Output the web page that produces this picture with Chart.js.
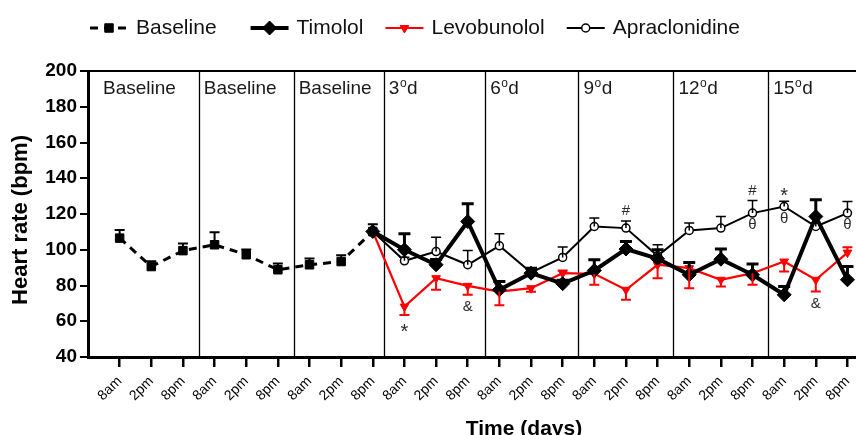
<!DOCTYPE html>
<html>
<head>
<meta charset="utf-8">
<script src="https://cdn.jsdelivr.net/npm/chart.js@4.4.0/dist/chart.umd.min.js"></script>
<style>
  body { margin: 0; background: #fff; }
  #wrap { width: 856px; height: 435px; }
</style>
</head>
<body>
<div id="wrap"><canvas id="hr_chart"></canvas></div>
<script>
// tick labels (one per sampling time, 8 days x 3)
const timeLabels = ['8am','2pm','8pm','8am','2pm','8pm','8am','2pm','8pm',
                    '8am','2pm','8pm','8am','2pm','8pm','8am','2pm','8pm',
                    '8am','2pm','8pm','8am','2pm','8pm'];

// baseline period
const baselineX   = [0, 1, 2, 3, 4, 5, 6, 7, 8];
const baselineHR  = [106.5, 90.6, 99.5, 102.8, 97.2, 88.8, 91.6, 93.4, 110.2];
const baselineErr = [4.5, 3, 4, 7, 3, 3.5, 3.5, 3.5, 4];

// treatment period
const treatX = [8, 9, 10, 11, 12, 13, 14, 15, 16, 17, 18, 19, 20, 21, 22, 23];
const timololHR  = [110.2, 100, 91.6, 115.8, 77.6, 86.9, 81, 88.4, 100.4, 95, 86, 94.7, 86, 74.8, 118.6, 83.2];
const timololErr = [0, 9, 3, 10, 4.6, 2.8, 2, 6, 4.2, 5, 6.9, 5.7, 6, 4.6, 9.4, 7.4];
const levoHR  = [110.2, 68.2, 84.1, 79.8, 76.6, 78.5, 86.9, 86.5, 77.6, 91.6, 89.7, 83.2, 86.9, 93.4, 83.2, 98.4];
const levoErr = [0, -4.7, -6.5, -5, -7.6, -2, 1.5, -6.1, -5.6, -7.5, -11.2, -3.8, -6.5, -5.6, -6.6, 3];
const apraHR  = [110.2, 93.8, 99, 91.6, 102.2, 87.3, 95.7, 113, 112.1, 96.6, 110.8, 112.1, 120.5, 124.2, 113, 120.5];
const apraErr = [0, 2, 8, 8, 6.8, 2, 5.8, 4.7, 4, 6.2, 4.2, 6.5, 7.1, 3, 2, 6.5];

// day panels
const dayNames = ['Baseline', 'Baseline', 'Baseline', '3', '6', '9', '12', '15'];
const dayBreaks = [2.5, 5.5, 8.35, 11.55, 14.5, 17.5, 20.5];

// significance marks
const markText   = ['*', '&', '&', '#', '#', 'θ', '*', 'θ', 'θ'];
const markSeries = ['Levobunolol', 'Levobunolol', 'Levobunolol', 'Apraclonidine', 'Apraclonidine',
                    'Apraclonidine', 'Apraclonidine', 'Apraclonidine', 'Apraclonidine'];
const markAt     = [9, 11, 22, 16, 20, 20, 21, 21, 23];
const markSide   = ['below', 'below', 'below', 'above', 'above', 'below', 'above', 'below', 'below'];

const FONT = '"Liberation Sans", Arial, sans-serif';

function pts(xs, ys) {
    return xs.map(function (x, i) { return { x: x, y: ys[i] }; });
}

const panelPlugin = {
    id: 'panels',
    beforeDatasetsDraw: function (chart) {
        const ctx = chart.ctx, a = chart.chartArea, xs = chart.scales.x;
        ctx.save();
        ctx.strokeStyle = '#000';
        ctx.lineWidth = 2;
        ctx.beginPath();
        ctx.moveTo(a.left, a.top);
        ctx.lineTo(a.right, a.top);
        ctx.stroke();
        ctx.lineWidth = 1.3;
        dayBreaks.forEach(function (b) {
            const px = Math.round(xs.getPixelForValue(b)) + 0.5;
            ctx.beginPath();
            ctx.moveTo(px, a.top);
            ctx.lineTo(px, a.bottom);
            ctx.stroke();
        });
        ctx.fillStyle = '#1a1a1a';
        ctx.textBaseline = 'middle';
        dayNames.forEach(function (name, i) {
            let px = i === 0 ? a.left + 15 : xs.getPixelForValue(dayBreaks[i - 1]) + 5;
            const py = 89;
            ctx.font = '19px ' + FONT;
            if (name === 'Baseline') {
                ctx.fillText(name, px, py);
                return;
            }
            ctx.fillText(name, px, py);
            px += ctx.measureText(name).width;
            ctx.font = '12px ' + FONT;
            ctx.fillText('o', px + 0.5, py - 5);
            px += ctx.measureText('o').width + 1;
            ctx.font = '19px ' + FONT;
            ctx.fillText('d', px, py);
        });
        ctx.restore();
    }
};

const errorPlugin = {
    id: 'errbars',
    afterDatasetsDraw: function (chart) {
        const ctx = chart.ctx, ys = chart.scales.y, xs = chart.scales.x;
        ctx.save();
        chart.data.datasets.forEach(function (ds) {
            ctx.strokeStyle = ds.borderColor;
            ctx.lineWidth = ds.errWidth;
            ds.data.forEach(function (p, i) {
                const e = ds.errs[i];
                if (!e) return;
                const px = xs.getPixelForValue(p.x);
                const y0 = ys.getPixelForValue(p.y);
                const y1 = ys.getPixelForValue(p.y + e);
                ctx.beginPath();
                ctx.moveTo(px, y0);
                ctx.lineTo(px, y1);
                ctx.moveTo(px - ds.capHalf, y1);
                ctx.lineTo(px + ds.capHalf, y1);
                ctx.stroke();
            });
        });
        // significance marks
        ctx.fillStyle = '#2b2b2b';
        ctx.textAlign = 'center';
        ctx.textBaseline = 'middle';
        markText.forEach(function (t, k) {
            const ds = chart.data.datasets.find(function (d) { return d.label === markSeries[k]; });
            const i = ds.data.findIndex(function (p) { return p.x === markAt[k]; });
            const p = ds.data[i], e = ds.errs[i];
            const px = xs.getPixelForValue(p.x);
            let py;
            if (markSide[k] === 'above') {
                py = ys.getPixelForValue(p.y + Math.max(e, 0)) - 10;
            } else {
                py = ys.getPixelForValue(p.y + Math.min(e, 0)) + 12;
            }
            if (t === '*') {
                ctx.font = '20px ' + FONT;
                py += 5;
            } else {
                ctx.font = '15px ' + FONT;
            }
            ctx.fillText(t, px, py);
        });
        ctx.restore();
    }
};

const legendPlugin = {
    id: 'ownLegend',
    afterDraw: function (chart) {
        const ctx = chart.ctx;
        const gaps = [34, 22, 22, 0];
        let x = 90;
        const y = 28;
        ctx.save();
        chart.data.datasets.forEach(function (ds, i) {
            ctx.strokeStyle = ds.borderColor;
            ctx.lineWidth = ds.borderWidth;
            ctx.setLineDash(ds.borderDash || []);
            ctx.beginPath();
            ctx.moveTo(x, y);
            ctx.lineTo(x + 38, y);
            ctx.stroke();
            ctx.setLineDash([]);
            ctx.fillStyle = ds.pointBackgroundColor;
            ctx.lineWidth = ds.pointBorderWidth;
            Chart.helpers.drawPoint(ctx, {
                pointStyle: ds.pointStyle,
                rotation: ds.pointRotation || 0,
                radius: ds.pointRadius,
                borderWidth: ds.pointBorderWidth
            }, x + 19, y);
            ctx.fillStyle = '#111';
            ctx.font = '21px ' + FONT;
            ctx.textBaseline = 'middle';
            ctx.fillText(ds.label, x + 46, y);
            x += 46 + ctx.measureText(ds.label).width + gaps[i];
        });
        // axis titles
        ctx.fillStyle = '#000';
        ctx.font = 'bold 21px ' + FONT;
        ctx.textAlign = 'center';
        ctx.fillText('Time (days)', 524, 429);
        ctx.translate(21, 220);
        ctx.rotate(-Math.PI / 2);
        ctx.font = 'bold 22px ' + FONT;
        ctx.fillText('Heart rate (bpm)', 0, 0);
        ctx.restore();
    }
};

new Chart(document.getElementById('hr_chart').getContext('2d'), {
    type: 'line',
    data: {
        datasets: [
            {
                label: 'Baseline',
                data: pts(baselineX, baselineHR),
                errs: baselineErr,
                borderColor: '#000',
                borderWidth: 3,
                borderDash: [8, 6],
                pointStyle: 'rect',
                pointRadius: 6,
                pointBorderWidth: 1,
                pointBackgroundColor: '#000',
                errWidth: 2,
                capHalf: 5,
                order: 3
            },
            {
                label: 'Timolol',
                data: pts(treatX, timololHR),
                errs: timololErr,
                borderColor: '#000',
                borderWidth: 4,
                pointStyle: 'rectRot',
                pointRadius: 7,
                pointBorderWidth: 1,
                pointBackgroundColor: '#000',
                errWidth: 3,
                capHalf: 6,
                order: 0
            },
            {
                label: 'Levobunolol',
                data: pts(treatX, levoHR),
                errs: levoErr,
                borderColor: '#ff0000',
                borderWidth: 2.2,
                pointStyle: 'triangle',
                pointRotation: 180,
                rotation: 180,
                pointRadius: 5,
                pointBorderWidth: 1,
                pointBackgroundColor: '#ff0000',
                errWidth: 2,
                capHalf: 5,
                order: 1
            },
            {
                label: 'Apraclonidine',
                data: pts(treatX, apraHR),
                errs: apraErr,
                borderColor: '#000',
                borderWidth: 2,
                pointStyle: 'circle',
                pointRadius: 4,
                pointBorderWidth: 1.5,
                pointBackgroundColor: '#fff',
                errWidth: 1.5,
                capHalf: 5,
                order: 2
            }
        ]
    },
    options: {
        responsive: true,
        maintainAspectRatio: false,
        animation: false,
        layout: { autoPadding: false, padding: { top: 71, left: 0, right: 0, bottom: 0 } },
        plugins: { legend: { display: false }, tooltip: { enabled: false } },
        elements: { line: { tension: 0 } },
        scales: {
            x: {
                type: 'linear',
                min: -1,
                max: 23.27,
                afterBuildTicks: function (s) {
                    s.ticks = timeLabels.map(function (t, i) { return { value: i }; });
                },
                afterFit: function (s) {
                    s.height = 78;
                    s.paddingLeft = 0;
                    s.paddingRight = 0;
                },
                ticks: {
                    autoSkip: false,
                    minRotation: 45,
                    maxRotation: 45,
                    padding: 6,
                    color: '#000',
                    font: { family: FONT, size: 14 },
                    callback: function (v) { return timeLabels[v]; }
                },
                grid: { drawOnChartArea: false, tickLength: 10, lineWidth: 2.5, color: '#000' },
                border: { color: '#000', width: 3 }
            },
            y: {
                min: 40,
                max: 200,
                afterFit: function (s) {
                    s.width = 88;
                    s.paddingTop = 0;
                    s.paddingBottom = 0;
                },
                ticks: {
                    stepSize: 20,
                    padding: 3,
                    color: '#000',
                    font: { family: FONT, size: 19, weight: 'bold' }
                },
                grid: { drawOnChartArea: false, tickLength: 8, lineWidth: 2, color: '#000' },
                border: { color: '#000', width: 3 }
            }
        }
    },
    plugins: [panelPlugin, errorPlugin, legendPlugin]
});
</script>
</body>
</html>
